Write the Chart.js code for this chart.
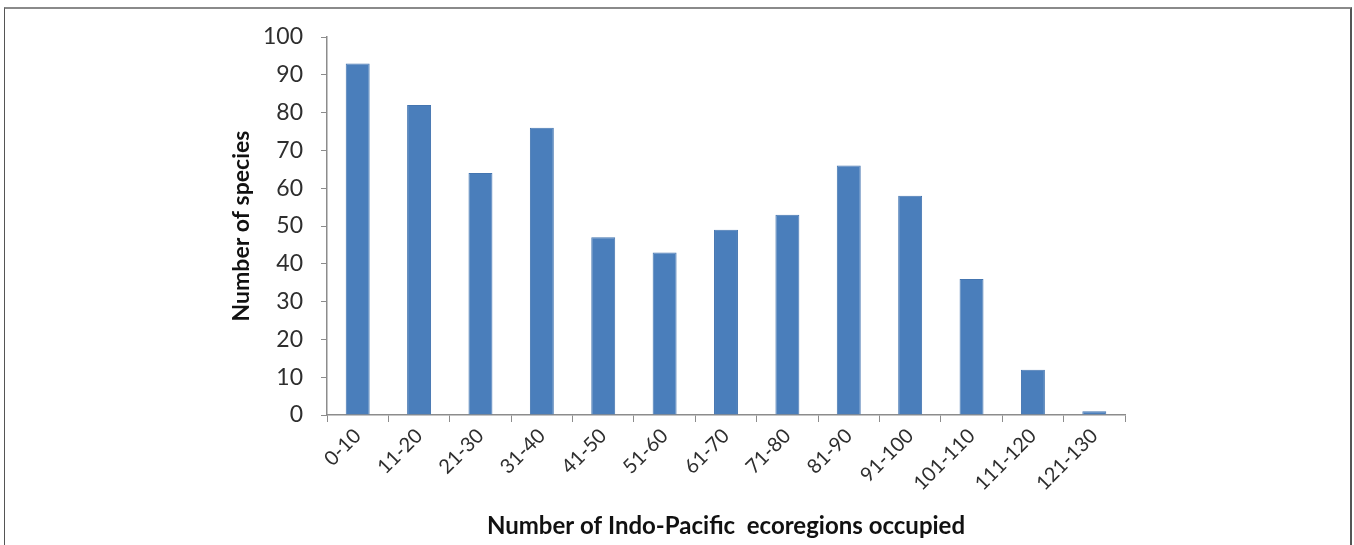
<!DOCTYPE html>
<html>
<head>
<meta charset="utf-8">
<script src="https://cdn.jsdelivr.net/npm/chart.js@4/dist/chart.umd.min.js"></script>
<style>
    body { margin: 0; background: #fff; }
    #frame {
        position: absolute; left: 4px; top: 7px; width: 1345px; height: 600px;
        border-top: 2px solid #8a8a8a; border-left: 1px solid #555; border-right: 2px solid #555;
    }
    #wrap { position: absolute; left: 0; top: 0; }
</style>
</head>
<body>
<div id="frame"></div>
<div id="wrap"><canvas id="ecoregions" width="1354" height="545"></canvas></div>
<script>
var ranges = ["0-10", "11-20", "21-30", "31-40", "41-50", "51-60", "61-70",
    "71-80", "81-90", "91-100", "101-110", "111-120", "121-130"];
var speciesCounts = [93, 82, 64, 76, 47, 43, 49, 53, 66, 58, 36, 12, 1];
var yTicks = [0, 10, 20, 30, 40, 50, 60, 70, 80, 90, 100];

var axisGray = "#8c8c8c";
var fontFamily = "Lato, 'Open Sans', sans-serif";

document.addEventListener("DOMContentLoaded", function () {
    var ctx = document.getElementById("ecoregions").getContext("2d");

    new Chart(ctx, {
        type: "bar",
        data: {
            labels: ranges,
            datasets: [
                {
                    label: "Number of species",
                    data: speciesCounts,
                    backgroundColor: "#4a7ebb",
                    borderColor: "#4475b0",
                    borderWidth: 1,
                    barPercentage: 0.52,
                    categoryPercentage: 0.75,
                },
            ],
        },
        options: {
            responsive: false,
            animation: false,
            layout: {
                padding: { left: 200, right: 229, top: 37, bottom: 2 },
            },
            plugins: {
                legend: { display: false },
                tooltip: { enabled: false },
            },
            scales: {
                y: {
                    min: 0,
                    max: 100,
                    afterBuildTicks: function (scale) {
                        scale.ticks = yTicks.map(function (v) { return { value: v }; });
                    },
                    afterFit: function (scale) {
                        scale.width = 127;
                    },
                    grid: {
                        drawOnChartArea: false,
                        color: axisGray,
                        tickLength: 6,
                    },
                    border: { color: axisGray, width: 1.5 },
                    ticks: {
                        color: "#2e2e2e",
                        font: { family: fontFamily, size: 23 },
                        padding: 18,
                    },
                    title: {
                        display: true,
                        text: "Number of species",
                        color: "#111",
                        font: { family: fontFamily, size: 23, weight: "bold" },
                        padding: { top: 28, bottom: 0 },
                    },
                },
                x: {
                    afterFit: function (scale) {
                        scale.height = 128;
                    },
                    grid: {
                        drawOnChartArea: false,
                        color: axisGray,
                        tickLength: 7,
                        offset: true,
                    },
                    border: { color: axisGray, width: 1.5 },
                    ticks: {
                        color: "#2e2e2e",
                        font: { family: fontFamily, size: 20 },
                        minRotation: 45,
                        maxRotation: 45,
                        padding: 2,
                    },
                    title: {
                        display: true,
                        text: "Number of Indo-Pacific  ecoregions occupied",
                        color: "#111",
                        font: { family: fontFamily, size: 24, weight: "bold" },
                        padding: { top: 0, bottom: 2 },
                    },
                },
            },
        },
    });
});
</script>
</body>
</html>
